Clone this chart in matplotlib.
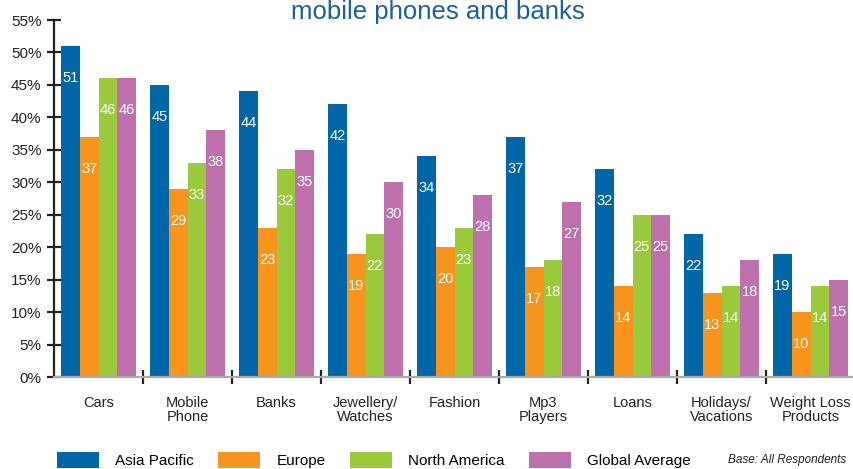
import matplotlib
matplotlib.use("Agg")
import matplotlib.pyplot as plt
import numpy as np
from matplotlib.patches import Patch
from matplotlib.ticker import FixedLocator

plt.rcParams["font.family"] = ["Liberation Sans", "DejaVu Sans"]

categories = ["Cars", "Mobile\nPhone", "Banks", "Jewellery/\nWatches", "Fashion",
              "Mp3\nPlayers", "Loans", "Holidays/\nVacations", "Weight Loss\nProducts"]
series_names = ["Asia Pacific", "Europe", "North America", "Global Average"]
asia_pacific = [51, 45, 44, 42, 34, 37, 32, 22, 19]
europe = [37, 29, 23, 19, 20, 17, 14, 13, 10]
north_america = [46, 33, 32, 22, 23, 18, 25, 14, 14]
global_average = [46, 38, 35, 30, 28, 27, 25, 18, 15]
colors = ["#0066a8", "#f7941d", "#9aca3c", "#bd70ab"]

fig = plt.figure(figsize=(8.54, 4.69), dpi=100)
ax = fig.add_axes([54 / 854, 1 - 377 / 469, 801 / 854, 357 / 469])

x = np.arange(len(categories))
width = 0.21
offsets = (np.arange(4) - 1.5) * width
for vals, off, col in zip([asia_pacific, europe, north_america, global_average], offsets, colors):
    bars = ax.bar(x + off, vals, width=width, color=col, linewidth=0)
    for b, v in zip(bars, vals):
        ax.annotate(str(v), (b.get_x() + b.get_width() / 2, v), xytext=(0, -23),
                    textcoords="offset points", ha="center", va="center",
                    color="white", fontsize=10.5)

ax.set_xlim(-0.5, len(categories) - 0.5)
ax.set_ylim(0, 55)
ax.set_yticks(np.arange(0, 56, 5))
ax.set_yticklabels([f"{t}%" for t in range(0, 56, 5)])
ax.set_xticks(x)
ax.set_xticklabels(categories, linespacing=1.0)
ax.xaxis.set_minor_locator(FixedLocator(np.arange(0.5, len(categories), 1.0)))

for side in ["top", "right"]:
    ax.spines[side].set_visible(False)
ax.spines["left"].set_linewidth(1.6)
ax.spines["left"].set_color("#222222")
ax.spines["bottom"].set_linewidth(1.6)
ax.spines["bottom"].set_color("#aaaaaa")

ax.tick_params(axis="y", direction="inout", length=10, width=1.6, color="#222222",
               labelsize=11, pad=4, labelcolor="#222222")
ax.tick_params(axis="x", which="major", length=0, pad=14, labelsize=10.5, labelcolor="#222222")
ax.tick_params(axis="x", which="minor", direction="inout", length=10, width=1.6, color="#222222")

fig.text(0.513, 1 - 19 / 469, "mobile phones and banks", ha="center", va="baseline",
         fontsize=18.5, color="#1c5f9f")

handles = [Patch(facecolor=c, edgecolor="none") for c in colors]
fig.legend(handles, series_names, loc="center left", bbox_to_anchor=(57 / 854, 1 - 460 / 469),
           ncol=4, frameon=False, fontsize=11, handlelength=2.75, handleheight=1.2,
           handletextpad=1.05, columnspacing=1.6, borderpad=0, borderaxespad=0)
fig.text(846 / 854, 1 - 460 / 469, "Base: All Respondents", ha="right", va="center",
         fontsize=8.5, style="italic", color="#222222")

fig.savefig("out.png", dpi=100)
